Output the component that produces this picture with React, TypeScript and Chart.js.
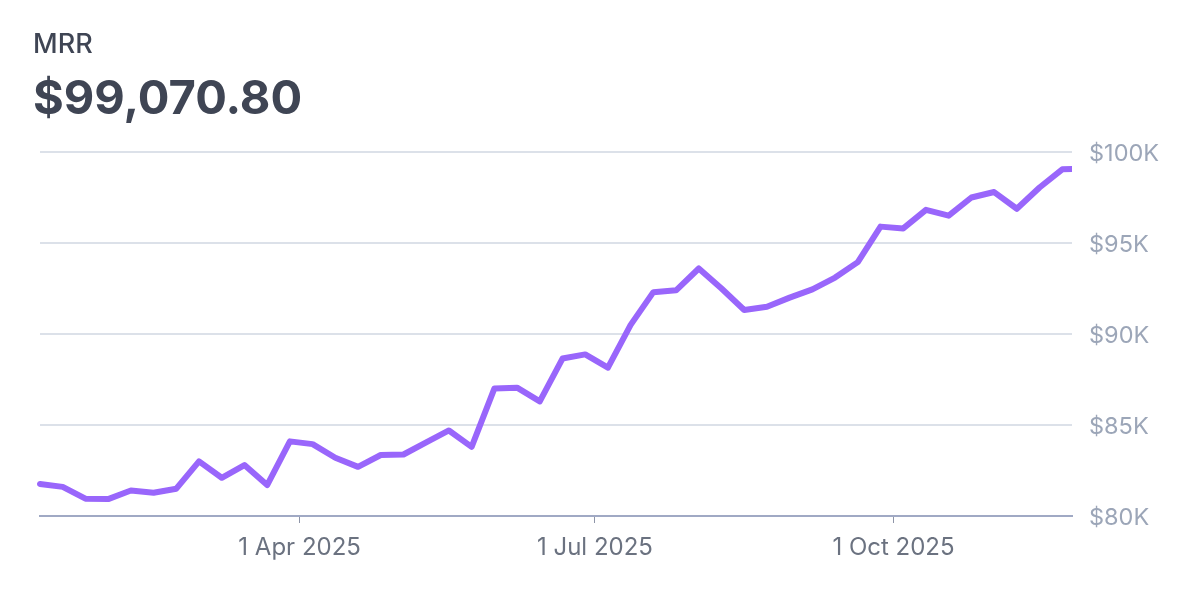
import Chart from 'chart.js/auto'
import { useEffect, useRef } from 'react'

const dates = [
  '2025-01-11', '2025-01-18', '2025-01-25', '2025-02-01', '2025-02-08', '2025-02-15',
  '2025-02-22', '2025-03-01', '2025-03-08', '2025-03-15', '2025-03-22', '2025-03-29',
  '2025-04-05', '2025-04-12', '2025-04-19', '2025-04-26', '2025-05-03', '2025-05-10',
  '2025-05-17', '2025-05-24', '2025-05-31', '2025-06-07', '2025-06-14', '2025-06-21',
  '2025-06-28', '2025-07-05', '2025-07-12', '2025-07-19', '2025-07-26', '2025-08-02',
  '2025-08-09', '2025-08-16', '2025-08-23', '2025-08-30', '2025-09-06', '2025-09-13',
  '2025-09-20', '2025-09-27', '2025-10-04', '2025-10-11', '2025-10-18', '2025-10-25',
  '2025-11-01', '2025-11-08', '2025-11-15', '2025-11-22', '2025-11-25',
]
const mrr = [
  81760, 81600, 80950, 80930, 81400, 81280, 81500, 83000, 82100, 82800, 81700, 84100,
  83950, 83200, 82700, 83350, 83380, 84050, 84700, 83800, 87000, 87050, 86300, 88650,
  88880, 88150, 90500, 92300, 92400, 93600, 92500, 91320, 91500, 92000, 92450, 93100,
  93950, 95900, 95800, 96820, 96500, 97500, 97800, 96880, 98050, 99050, 99070,
]
const xTickDates = ['2025-04-01', '2025-07-01', '2025-10-01']
const xTickLabels = ['1 Apr 2025', '1 Jul 2025', '1 Oct 2025']
const yTicks = [80000, 85000, 90000, 95000, 100000]

const metricName = 'MRR'
const metricValue = '$99,070.80'
const fontFamily = 'Inter, sans-serif'

export default function App() {
  const canvas = useRef<HTMLCanvasElement | null>(null)

  useEffect(() => {
    if (!canvas.current) return
    const xTicks = xTickDates.map((d) => Date.parse(d))

    const chart = new Chart(canvas.current, {
      type: 'line',
      data: {
        datasets: [
          {
            label: metricName,
            data: dates.map((d, i) => ({ x: Date.parse(d), y: mrr[i] })),
            borderColor: '#9966fb',
            borderWidth: 6,
            borderCapStyle: 'round',
            borderJoinStyle: 'round',
            pointRadius: 0,
            tension: 0,
            clip: { left: false, top: false, right: 0, bottom: false },
          },
        ],
      },
      options: {
        animation: false,
        responsive: true,
        maintainAspectRatio: false,
        layout: { padding: { left: 40, top: 152, right: 0, bottom: 0 } },
        plugins: { legend: { display: false }, tooltip: { enabled: false } },
        scales: {
          x: {
            type: 'linear',
            min: Date.parse(dates[0]),
            max: Date.parse(dates[dates.length - 1]),
            afterBuildTicks: (axis) => {
              axis.ticks = xTicks.map((value) => ({ value }))
            },
            afterFit: (axis) => {
              axis.height = 84
            },
            grid: {
              drawOnChartArea: false,
              drawTicks: true,
              tickLength: 7,
              tickColor: '#8e95a8',
              tickWidth: 1,
            },
            border: { color: '#a0a9c4', width: 2 },
            ticks: {
              autoSkip: false,
              maxRotation: 0,
              padding: 10,
              color: '#6b7280',
              font: { family: fontFamily, size: 24 },
              callback: (value) => xTickLabels[xTicks.indexOf(value as number)] ?? '',
            },
          },
          y: {
            position: 'right',
            min: 80000,
            max: 100000,
            afterBuildTicks: (axis) => {
              axis.ticks = yTicks.map((value) => ({ value }))
            },
            afterFit: (axis) => {
              axis.width = 128
            },
            grid: { color: '#dce1e9', lineWidth: 2, drawTicks: false },
            border: { display: false },
            ticks: {
              padding: 17,
              labelOffset: 2,
              color: '#9ca6b8',
              font: { family: fontFamily, size: 23.5 },
              callback: (value) => `$${(value as number) / 1000}K`,
            },
          },
        },
      },
    })

    return () => {
      chart.destroy()
    }
  }, [])

  return (
    <div style={{ position: 'absolute', left: 0, top: 0, width: 1200, height: 600, background: '#fff', fontFamily }}>
      <div style={{ position: 'absolute', left: 33, top: 29, fontSize: 27, lineHeight: '30px', fontWeight: 500, color: '#3f4554' }}>
        {metricName}
      </div>
      <div style={{ position: 'absolute', left: 33, top: 68, fontSize: 47, lineHeight: '58px', fontWeight: 700, color: '#3f4554' }}>
        {metricValue}
      </div>
      <canvas ref={canvas} />
    </div>
  )
}
